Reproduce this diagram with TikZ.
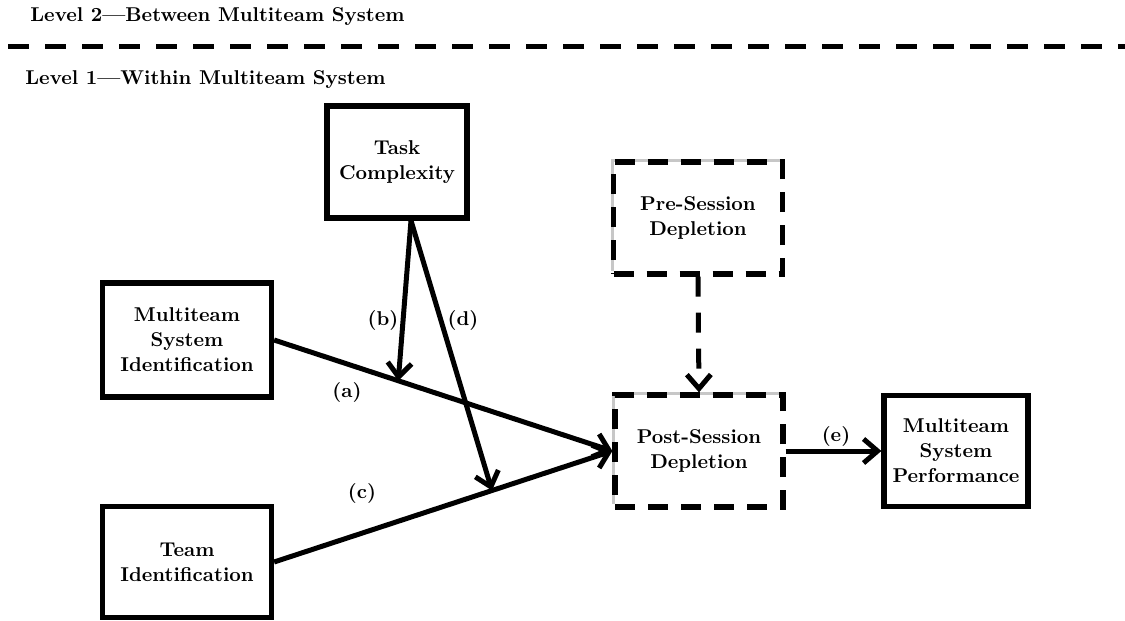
\documentclass[tikz,border=0pt]{standalone}
\usepackage{tikz}
\usetikzlibrary{arrows.meta, positioning, calc, shadows}

\begin{document}
\begin{tikzpicture}[x=0.5pt, y=-0.5pt,
    font=\fontsize{10}{12.5}\selectfont\bfseries,
    halo/.style={drop shadow={shadow xshift=-1.5pt, shadow yshift=1.5pt,
                 opacity=0.22, fill=black}},
    box/.style={rectangle, draw=black, fill=white, line width=2.6pt,
                align=center, inner sep=2pt, halo},
    dbox/.style={box, dash pattern=on 10pt off 6.5pt},
    arrow/.style={-{Straight Barb[length=7pt, width=12pt]}, line width=2.5pt},
    darrow/.style={arrow, dash pattern=on 10pt off 8pt},
    tag/.style={inner sep=1pt}
]
\useasboundingbox (0,0) rectangle (1125,621);

% level labels and separator
\node[anchor=west, inner sep=0pt] (lvtwo) at (30,17) {Level 2---Between Multiteam System};
\node[anchor=west, inner sep=0pt] (lvone) at (25,80) {Level 1---Within Multiteam System};
\coordinate (sepl) at (8,46);
\coordinate (sepr) at (1125,46);
\draw[line width=2.5pt, dash pattern=on 10.5pt off 8pt] (sepl) -- (sepr);

% variables
\node[box, minimum width=70pt, minimum height=56pt] (task) at (397,162)
    {Task\\Complexity};
\node[dbox, minimum width=84.5pt, minimum height=56pt] (pre) at (698,218)
    {Pre-Session\\Depletion};
\node[box, minimum width=84.5pt, minimum height=57pt] (msi) at (187,340)
    {Multiteam\\System\\Identification};
\node[box, minimum width=84.5pt, minimum height=55.5pt] (team) at (187,562)
    {Team\\Identification};
\node[dbox, minimum width=84pt, minimum height=56pt] (post) at (699,451)
    {Post-Session\\Depletion};
\node[box, minimum width=72pt, minimum height=55.5pt] (perf) at (956,451)
    {Multiteam\\System\\Performance};

% paths
\coordinate (tc) at ([xshift=7pt]task.south);
\coordinate (ona) at ($(msi.east)!0.367!(post.west)$);
\coordinate (onc) at ($(team.east)!0.644!(post.west)$);

\draw[arrow] (msi.east) -- (post.west);
\draw[arrow] (team.east) -- (post.west);
\draw[arrow] (tc) -- (ona);
\draw[arrow] (tc) -- (onc);
\draw[darrow] (pre.south) -- (post.north);
\draw[arrow] (post.east) -- (perf.west);

% path labels
\node[tag] (la) at (347,392) {(a)};
\node[tag] (lb) at (383,320) {(b)};
\node[tag] (lc) at (362,493) {(c)};
\node[tag] (ld) at (463,320) {(d)};
\node[tag] (le) at (836,436) {(e)};
\end{tikzpicture}
\end{document}
